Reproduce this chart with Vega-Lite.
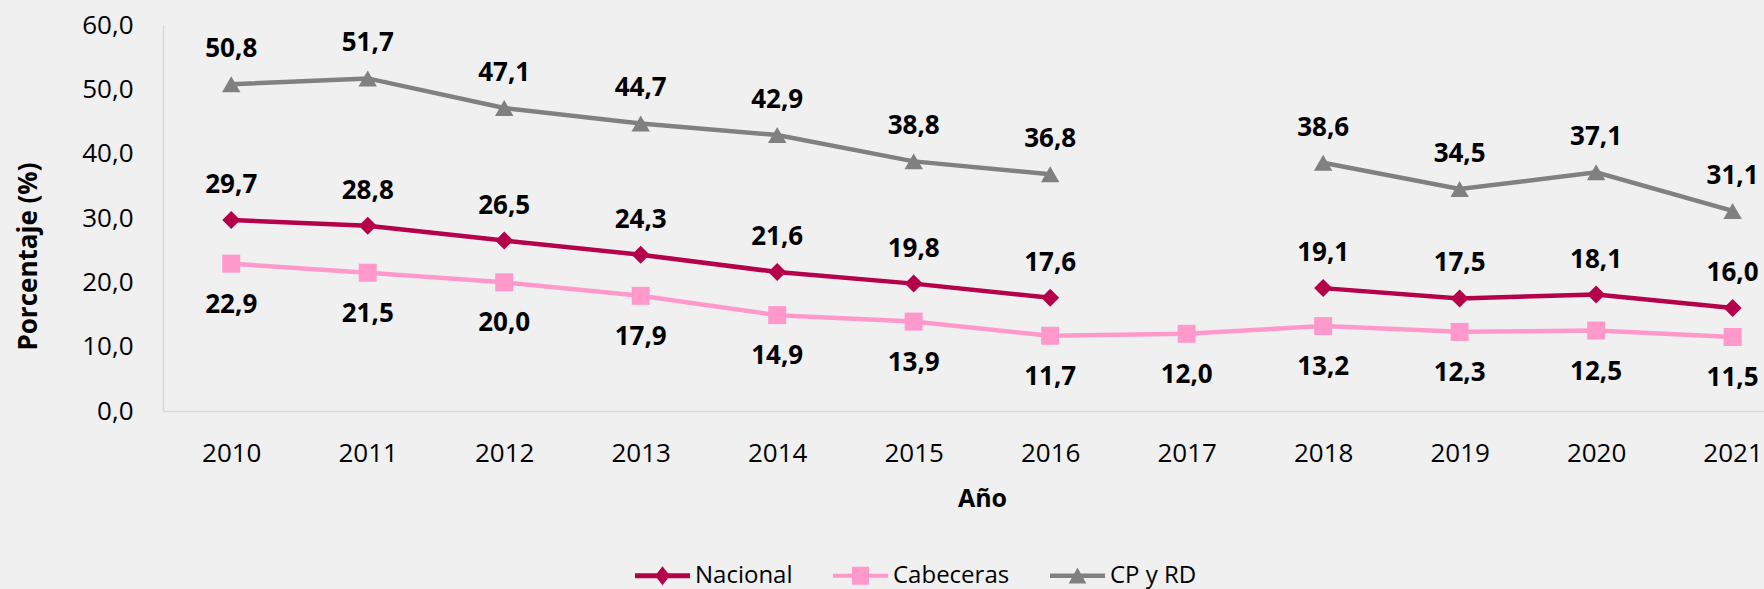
{
  "$schema": "https://vega.github.io/schema/vega-lite/v6.json",
  "width": 1601,
  "height": 386,
  "autosize": {"type": "none"},
  "padding": {"left": 163, "top": 25, "right": 0, "bottom": 178},
  "background": "#F0F0F0",
  "config": {
    "view": {"stroke": null},
    "font": "Open Sans",
    "locale": {"number": {"decimal": ",", "thousands": ".", "grouping": [3], "currency": ["$", ""]}},
    "axis": {"grid": false, "ticks": false, "domainColor": "#D9D9D9", "domainWidth": 1.5, "labelFont": "Open Sans", "labelFontSize": 26, "labelColor": "#000000", "titleFont": "Open Sans", "titleFontSize": 24, "titleFontWeight": "bold", "titleColor": "#000000"}
  },
  "data": {"values": [
    {"serie": "Nacional", "anio": 2010, "valor": 29.7, "tramo": "a"},
    {"serie": "Nacional", "anio": 2011, "valor": 28.8, "tramo": "a"},
    {"serie": "Nacional", "anio": 2012, "valor": 26.5, "tramo": "a"},
    {"serie": "Nacional", "anio": 2013, "valor": 24.3, "tramo": "a"},
    {"serie": "Nacional", "anio": 2014, "valor": 21.6, "tramo": "a"},
    {"serie": "Nacional", "anio": 2015, "valor": 19.8, "tramo": "a"},
    {"serie": "Nacional", "anio": 2016, "valor": 17.6, "tramo": "a"},
    {"serie": "Nacional", "anio": 2018, "valor": 19.1, "tramo": "b"},
    {"serie": "Nacional", "anio": 2019, "valor": 17.5, "tramo": "b"},
    {"serie": "Nacional", "anio": 2020, "valor": 18.1, "tramo": "b"},
    {"serie": "Nacional", "anio": 2021, "valor": 16.0, "tramo": "b"},
    {"serie": "Cabeceras", "anio": 2010, "valor": 22.9, "tramo": "a"},
    {"serie": "Cabeceras", "anio": 2011, "valor": 21.5, "tramo": "a"},
    {"serie": "Cabeceras", "anio": 2012, "valor": 20.0, "tramo": "a"},
    {"serie": "Cabeceras", "anio": 2013, "valor": 17.9, "tramo": "a"},
    {"serie": "Cabeceras", "anio": 2014, "valor": 14.9, "tramo": "a"},
    {"serie": "Cabeceras", "anio": 2015, "valor": 13.9, "tramo": "a"},
    {"serie": "Cabeceras", "anio": 2016, "valor": 11.7, "tramo": "a"},
    {"serie": "Cabeceras", "anio": 2017, "valor": 12.0, "tramo": "a"},
    {"serie": "Cabeceras", "anio": 2018, "valor": 13.2, "tramo": "a"},
    {"serie": "Cabeceras", "anio": 2019, "valor": 12.3, "tramo": "a"},
    {"serie": "Cabeceras", "anio": 2020, "valor": 12.5, "tramo": "a"},
    {"serie": "Cabeceras", "anio": 2021, "valor": 11.5, "tramo": "a"},
    {"serie": "CP y RD", "anio": 2010, "valor": 50.8, "tramo": "a"},
    {"serie": "CP y RD", "anio": 2011, "valor": 51.7, "tramo": "a"},
    {"serie": "CP y RD", "anio": 2012, "valor": 47.1, "tramo": "a"},
    {"serie": "CP y RD", "anio": 2013, "valor": 44.7, "tramo": "a"},
    {"serie": "CP y RD", "anio": 2014, "valor": 42.9, "tramo": "a"},
    {"serie": "CP y RD", "anio": 2015, "valor": 38.8, "tramo": "a"},
    {"serie": "CP y RD", "anio": 2016, "valor": 36.8, "tramo": "a"},
    {"serie": "CP y RD", "anio": 2018, "valor": 38.6, "tramo": "b"},
    {"serie": "CP y RD", "anio": 2019, "valor": 34.5, "tramo": "b"},
    {"serie": "CP y RD", "anio": 2020, "valor": 37.1, "tramo": "b"},
    {"serie": "CP y RD", "anio": 2021, "valor": 31.1, "tramo": "b"}
  ]},
  "encoding": {
    "x": {"field": "anio", "type": "quantitative", "scale": {"domain": [2009.5, 2021.23], "nice": false, "zero": false},
      "axis": {"values": [2010, 2011, 2012, 2013, 2014, 2015, 2016, 2017, 2018, 2019, 2020, 2021], "format": "d", "labelPadding": 29, "labelFlush": false, "labelOverlap": false, "title": "Año", "titleFontSize": 25, "titleBaseline": "middle", "titleX": 819, "titleY": 87}},
    "y": {"field": "valor", "type": "quantitative", "scale": {"domain": [0, 60], "nice": false},
      "axis": {"values": [0, 10, 20, 30, 40, 50, 60], "format": ".1f", "labelPadding": 30, "title": "Porcentaje (%)", "titleFontSize": 26, "titleAngle": -90, "titleBaseline": "middle", "titleX": -135, "titleY": 231}}
  },
  "layer": [
    {
      "transform": [{"filter": "datum.serie == 'Cabeceras'"}],
      "mark": {"type": "line", "strokeWidth": 4.5, "color": "#FF99CC"},
      "encoding": {"detail": {"field": "tramo"}}
    },
    {
      "transform": [{"filter": "datum.serie == 'CP y RD'"}],
      "mark": {"type": "line", "strokeWidth": 4.5, "color": "#808080"},
      "encoding": {"detail": {"field": "tramo"}}
    },
    {
      "transform": [{"filter": "datum.serie == 'Nacional'"}],
      "mark": {"type": "line", "strokeWidth": 4.5, "color": "#B5004A"},
      "encoding": {"detail": {"field": "tramo"}}
    },
    {
      "transform": [{"filter": "datum.serie == 'Nacional'"}],
      "mark": {"type": "point", "shape": "diamond", "filled": true, "opacity": 1, "size": 324, "strokeWidth": 0, "color": "#B5004A"}
    },
    {
      "transform": [{"filter": "datum.serie == 'Cabeceras'"}],
      "mark": {"type": "point", "shape": "square", "filled": true, "opacity": 1, "size": 324, "strokeWidth": 0, "color": "#FF99CC"}
    },
    {
      "transform": [{"filter": "datum.serie == 'CP y RD'"}],
      "mark": {"type": "point", "shape": "triangle-up", "filled": true, "opacity": 1, "size": 340, "strokeWidth": 0, "color": "#808080"}
    },
    {
      "transform": [{"filter": "datum.serie != 'Cabeceras'"}],
      "mark": {"type": "text", "fontWeight": "bold", "fontSize": 26, "color": "#000000", "dy": -35, "baseline": "middle"},
      "encoding": {"text": {"field": "valor", "type": "quantitative", "format": ".1f"}}
    },
    {
      "transform": [{"filter": "datum.serie == 'Cabeceras'"}],
      "mark": {"type": "text", "fontWeight": "bold", "fontSize": 26, "color": "#000000", "dy": 41, "baseline": "middle"},
      "encoding": {"text": {"field": "valor", "type": "quantitative", "format": ".1f"}}
    },
    {
      "mark": {"type": "point", "filled": true, "opacity": 0, "size": 1, "strokeWidth": 0},
      "encoding": {
        "color": {"field": "serie", "type": "nominal", "scale": {"domain": ["Nacional", "Cabeceras", "CP y RD"], "range": ["#B5004A", "#FF99CC", "#808080"]},
          "legend": {"orient": "none", "legendX": 472, "legendY": 523, "direction": "horizontal", "columns": 3, "title": null, "symbolSize": 3025, "symbolOpacity": 1, "symbolStrokeWidth": 0, "labelFont": "Open Sans", "labelFontSize": 24, "labelColor": "#000000", "labelOffset": 5, "columnPadding": 40}},
        "shape": {"field": "serie", "type": "nominal", "scale": {"domain": ["Nacional", "Cabeceras", "CP y RD"], "range": [
          "M-1,-0.09H1V0.09H-1Z M0,-0.345L0.27,0L0,0.345L-0.27,0Z",
          "M-1,-0.075H1V0.075H-1Z M-0.31,-0.33H0.31V0.33H-0.31Z",
          "M-1,-0.085H1V0.085H-1Z M0,-0.3L0.32,0.28H-0.32Z"
        ]},
          "legend": {"orient": "none", "legendX": 472, "legendY": 523, "direction": "horizontal", "columns": 3, "title": null, "symbolSize": 3025, "symbolOpacity": 1, "symbolStrokeWidth": 0, "labelFont": "Open Sans", "labelFontSize": 24, "labelColor": "#000000", "labelOffset": 5, "columnPadding": 40}}
      }
    }
  ]
}
